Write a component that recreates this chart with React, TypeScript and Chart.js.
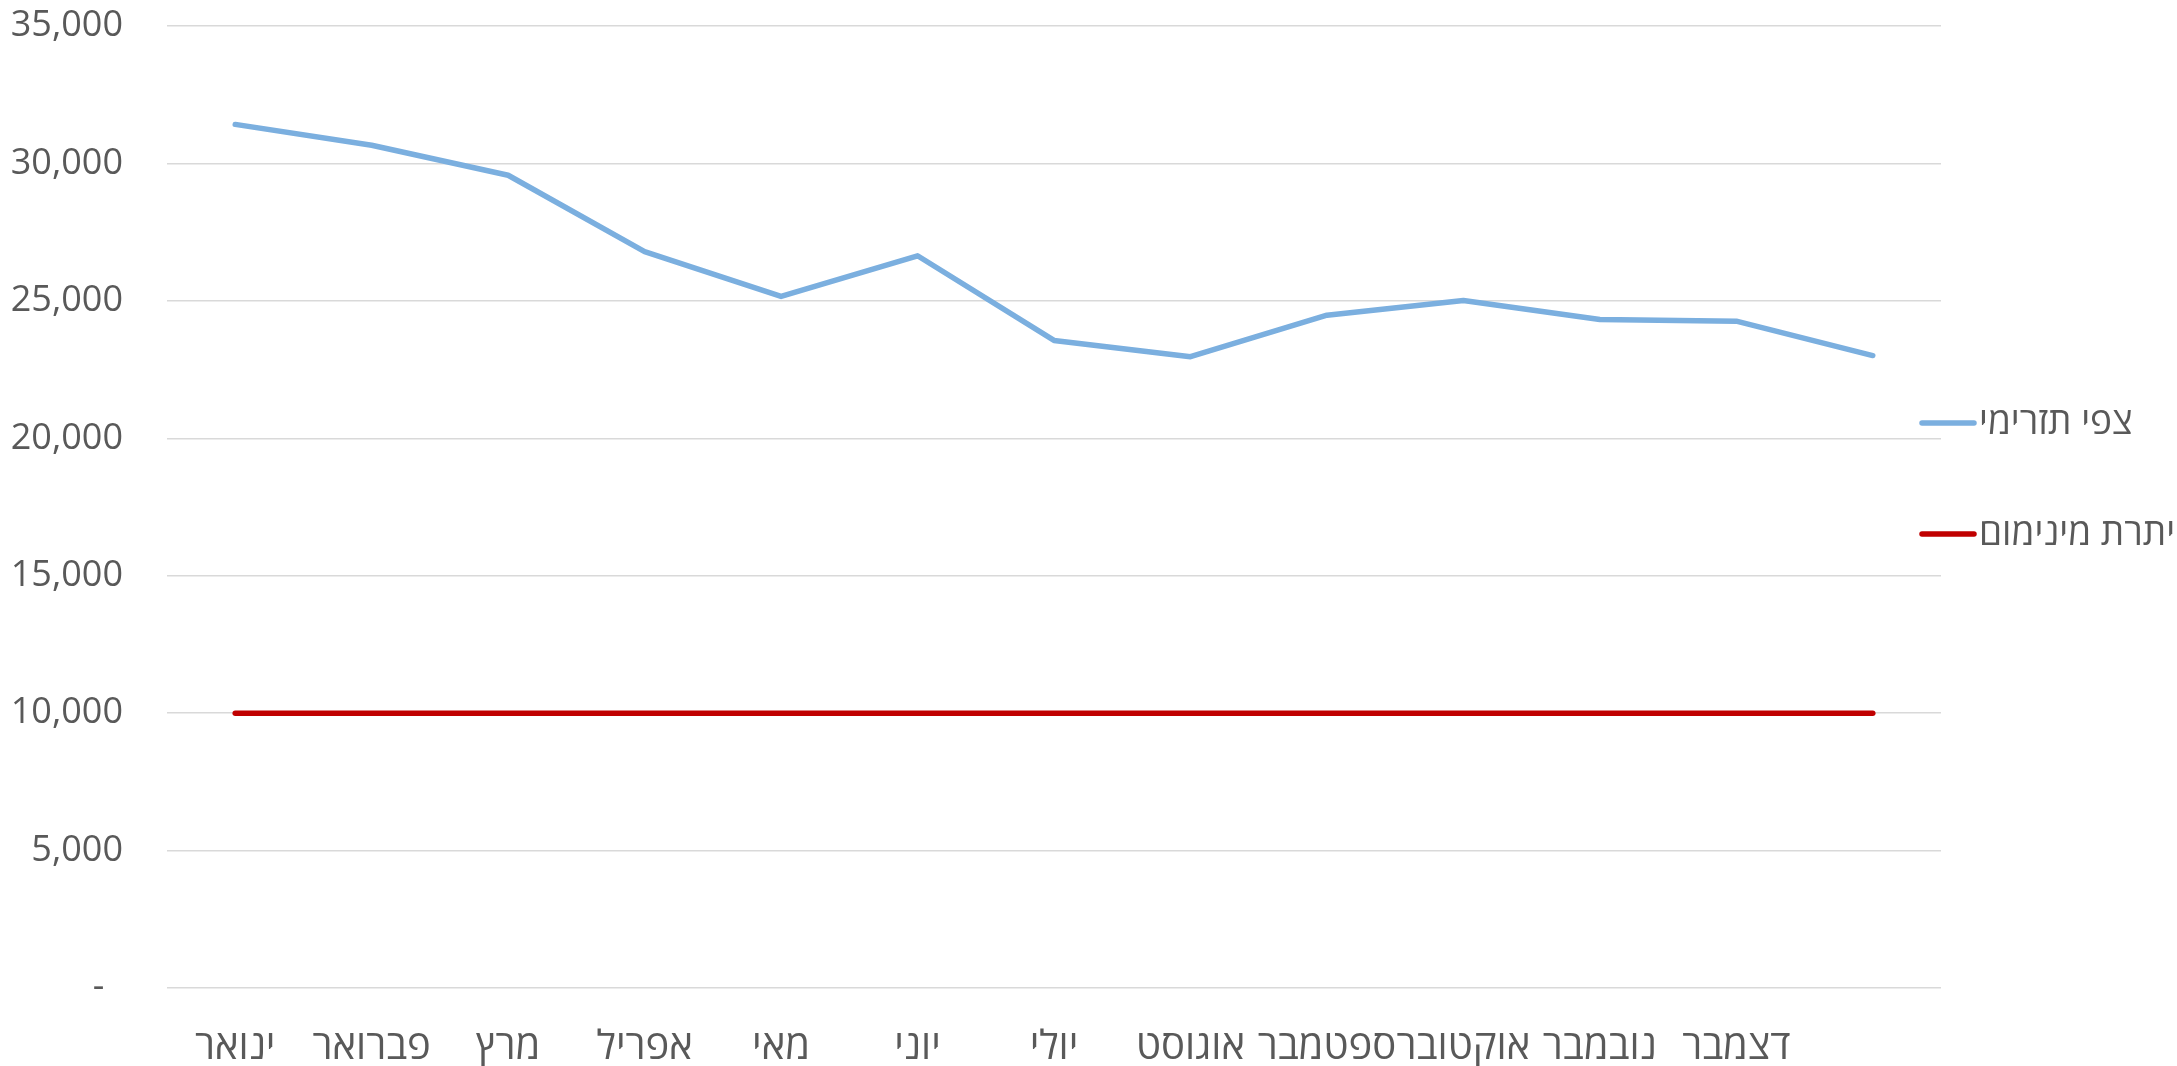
import React, { useEffect, useRef } from "react";
import { Chart, registerables } from "chart.js";

Chart.register(...registerables);

const categories = [
  "ינואר",
  "פברואר",
  "מרץ",
  "אפריל",
  "מאי",
  "יוני",
  "יולי",
  "אוגוסט",
  "ספטמבר",
  "אוקטובר",
  "נובמבר",
  "דצמבר",
  "",
];

const forecastLabel = "צפי תזרימי";
const forecastValues = [
  31420, 30660, 29570, 26790, 25160, 26640, 23560, 22970, 24480, 25010, 24320, 24260, 23010,
];

const minimumLabel = "יתרת מינימום";
const minimumValues = [
  10000, 10000, 10000, 10000, 10000, 10000, 10000, 10000, 10000, 10000, 10000, 10000, 10000,
];

const yTicks = [0, 5000, 10000, 15000, 20000, 25000, 30000, 35000];

const FONT = '"Open Sans", "DejaVu Sans", sans-serif';
const TEXT_COLOR = "#595959";
const BLUE = "#7BAFDF";
const RED = "#C00000";

const sideLegend = {
  id: "sideLegend",
  afterDraw(chart: any) {
    const { ctx, chartArea } = chart;
    const mid = (chartArea.top + chartArea.bottom) / 2;
    const x0 = chartArea.right - 21;
    const items = [
      { y: mid - 84, color: BLUE, text: forecastLabel },
      { y: mid + 27, color: RED, text: minimumLabel },
    ];
    ctx.save();
    items.forEach((it) => {
      ctx.beginPath();
      ctx.strokeStyle = it.color;
      ctx.lineWidth = 5.5;
      ctx.lineCap = "round";
      ctx.moveTo(x0 + 2, it.y);
      ctx.lineTo(x0 + 54, it.y);
      ctx.stroke();
      ctx.fillStyle = TEXT_COLOR;
      ctx.font = `37px ${FONT}`;
      ctx.textAlign = "left";
      ctx.textBaseline = "middle";
      ctx.fillText(it.text, x0 + 59, it.y);
    });
    ctx.restore();
  },
};

export default function App() {
  const ref = useRef<HTMLCanvasElement | null>(null);

  useEffect(() => {
    if (!ref.current) return;
    const chart = new Chart(ref.current, {
      type: "line",
      data: {
        labels: categories,
        datasets: [
          {
            label: forecastLabel,
            data: forecastValues,
            borderColor: BLUE,
            backgroundColor: BLUE,
            borderWidth: 5.5,
            pointRadius: 0,
            pointHoverRadius: 0,
            tension: 0,
            borderCapStyle: "round",
            borderJoinStyle: "round",
          },
          {
            label: minimumLabel,
            data: minimumValues,
            borderColor: RED,
            backgroundColor: RED,
            borderWidth: 5.5,
            pointRadius: 0,
            pointHoverRadius: 0,
            tension: 0,
            borderCapStyle: "round",
            borderJoinStyle: "round",
          },
        ],
      },
      options: {
        animation: false,
        responsive: false,
        maintainAspectRatio: false,
        layout: { padding: { left: 0, right: 236, top: 26, bottom: 0 } },
        plugins: {
          legend: { display: false },
          tooltip: { enabled: false },
        },
        scales: {
          x: {
            type: "category",
            offset: true,
            grid: { display: false, drawTicks: false },
            border: { display: false },
            ticks: {
              autoSkip: false,
              maxRotation: 0,
              minRotation: 0,
              padding: 36,
              color: TEXT_COLOR,
              font: { family: FONT, size: 40 },
            },
            afterFit: (scale: any) => {
              scale.height = 78;
              scale.paddingLeft = 0;
              scale.paddingRight = 0;
            },
          },
          y: {
            min: 0,
            max: 35000,
            afterBuildTicks: (scale: any) => {
              scale.ticks = yTicks.map((v) => ({ value: v }));
            },
            grid: { color: "#d9d9d9", lineWidth: 1.5, drawTicks: false },
            border: { display: false },
            ticks: {
              padding: 44,
              color: TEXT_COLOR,
              font: { family: FONT, size: 36 },
              callback: (v: any) => (Number(v) === 0 ? "-  " : Number(v).toLocaleString("en-US")),
            },
            afterFit: (scale: any) => {
              scale.width = 167;
              scale.paddingTop = 0;
              scale.paddingBottom = 0;
            },
          },
        },
      },
      plugins: [sideLegend],
    });
    return () => chart.destroy();
  }, []);

  return (
    <div style={{ position: "absolute", left: 0, top: 0, width: 2177, height: 1066, background: "#fff" }}>
      <canvas ref={ref} width={2177} height={1066} style={{ display: "block", width: 2177, height: 1066 }} />
    </div>
  );
}
